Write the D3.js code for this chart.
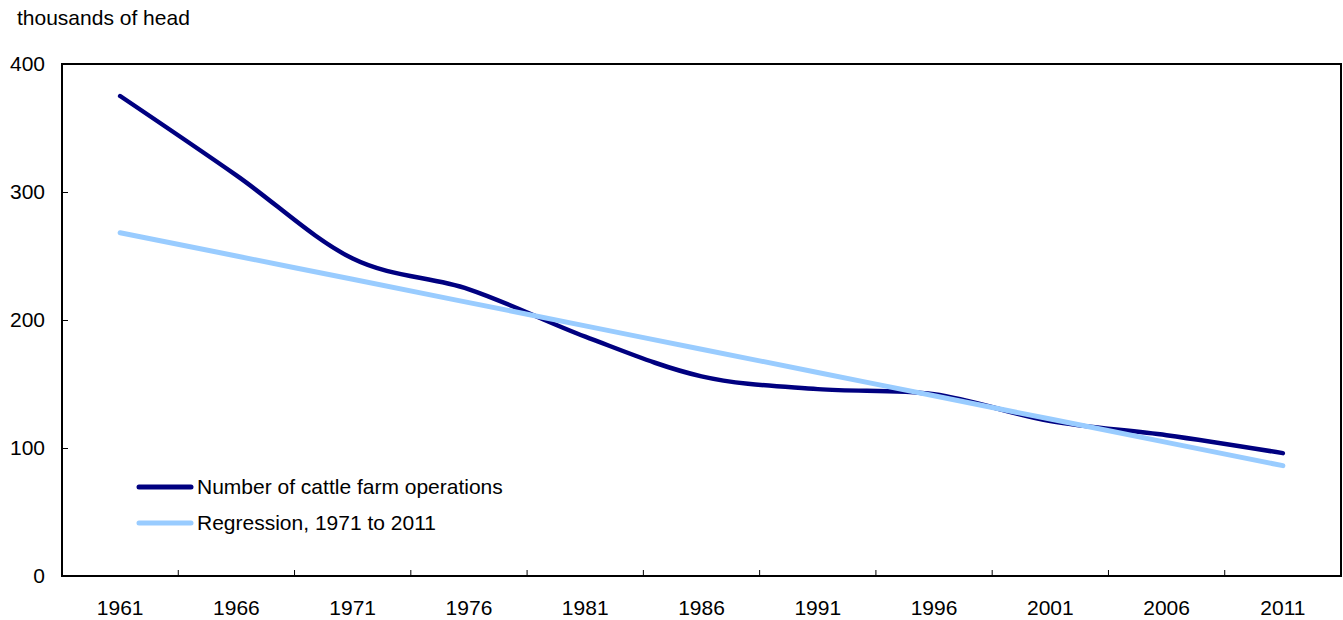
<!DOCTYPE html>
<html><head><meta charset="utf-8">
<script src="https://cdn.jsdelivr.net/npm/d3@7"></script>
<style>
body{margin:0;background:#fff;}
text{font-family:"Liberation Sans",Arial,Helvetica,sans-serif;font-size:21px;fill:#000;}
</style></head><body>
<svg id="c" width="1343" height="620"></svg>
<script>
const years = ["1961","1966","1971","1976","1981","1986","1991","1996","2001","2006","2011"];
const cattleOps = [375, 313, 248, 224, 187, 156, 146, 142, 121, 110, 96];
const regression = [268.2, 250, 231.8, 213.6, 195.4, 177.2, 159, 140.8, 122.6, 104.4, 86.2];
const yTicks = [0, 100, 200, 300, 400];
const seriesNames = ["Number of cattle farm operations", "Regression, 1971 to 2011"];
const seriesColors = ["#000080", "#99CCFF"];
const unitLabel = "thousands of head";

const svg = d3.select("#c");
const L = 62, R = 1341, T = 64, B = 576;
const FS = 21;
const x = d3.scaleBand().domain(years).range([L, R]).padding(0);
const y = d3.scaleLinear().domain([0, 400]).range([B, T]);
const cx = d => x(d) + x.bandwidth() / 2;

// unit label
svg.append("text").attr("x", 17).attr("y", 25).text(unitLabel);

// frame
svg.append("rect").attr("x", L).attr("y", T).attr("width", R - L).attr("height", B - T)
  .attr("fill", "none").attr("stroke", "#000").attr("stroke-width", 2);

// y axis
const yAxis = d3.axisLeft(y).tickValues(yTicks).tickSize(-6).tickPadding(17).tickFormat(d3.format("d"));
const gy = svg.append("g").attr("transform", `translate(${L},0)`).call(yAxis);
gy.select(".domain").remove();
gy.selectAll(".tick line").attr("stroke", "#000").attr("stroke-width", 1);
gy.selectAll("text").attr("font-size", FS).attr("font-family", "Liberation Sans, Arial, sans-serif").attr("fill", "#000");

// x axis labels
const xAxis = d3.axisBottom(x).tickSize(0).tickPadding(0);
const gx = svg.append("g").attr("transform", `translate(0,${B})`).call(xAxis);
gx.select(".domain").remove();
gx.selectAll("text").attr("y", 39).attr("dy", 0).attr("font-size", FS)
  .attr("font-family", "Liberation Sans, Arial, sans-serif").attr("fill", "#000");

// x tick marks between categories (inward)
svg.append("g").selectAll("line").data(years.slice(1)).join("line")
  .attr("x1", d => x(d)).attr("x2", d => x(d))
  .attr("y1", B).attr("y2", B - 6).attr("stroke", "#000").attr("stroke-width", 1);

// lines
const line = d3.line().x((d, i) => cx(years[i])).y(d => y(d)).curve(d3.curveCatmullRom.alpha(0));
[cattleOps, regression].forEach((s, k) => {
  svg.append("path").datum(s).attr("d", line).attr("fill", "none")
    .attr("stroke", seriesColors[k]).attr("stroke-width", k === 0 ? 4.5 : 5)
    .attr("stroke-linecap", "round").attr("stroke-linejoin", "round");
});

// legend
const lg = svg.append("g");
seriesNames.forEach((n, k) => {
  const ly = 487 + k * 36;
  lg.append("line").attr("x1", 139).attr("x2", 191).attr("y1", ly).attr("y2", ly)
    .attr("stroke", seriesColors[k]).attr("stroke-width", 5).attr("stroke-linecap", "round");
  lg.append("text").attr("x", 197).attr("y", ly).attr("dy", "0.35em").text(n);
});
</script></body></html>
